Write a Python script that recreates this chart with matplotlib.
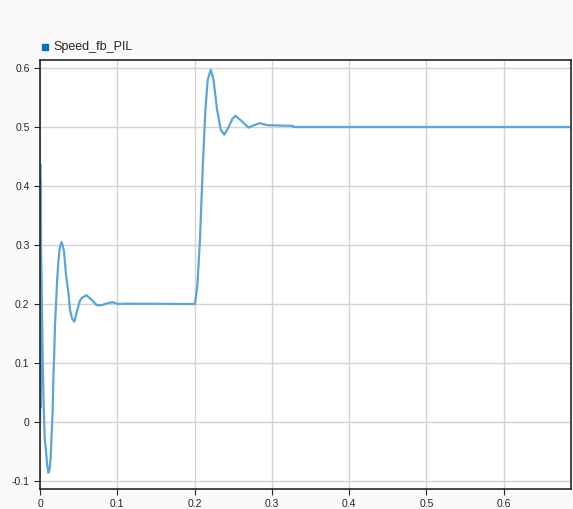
import numpy as np
import matplotlib.pyplot as plt

# key points (time in s, speed feedback)
t = [0.0, 0.0003, 0.0006, 0.0009, 0.0013, 0.0025, 0.0035, 0.0048, 0.0062,
     0.0078, 0.0091, 0.0108, 0.0125, 0.0138, 0.0151, 0.0164, 0.0172, 0.0185,
     0.0194, 0.0211, 0.0224, 0.0237, 0.0255, 0.0280, 0.0310, 0.0336, 0.0367,
     0.0388, 0.0415, 0.0444, 0.0483, 0.0515, 0.0539, 0.0600, 0.0668, 0.0733,
     0.0798, 0.0865, 0.0936, 0.1013, 0.1140, 0.2005, 0.2035, 0.2070, 0.2105,
     0.2140, 0.2170, 0.2210, 0.2245, 0.2290, 0.2340, 0.2385, 0.2440, 0.2490,
     0.2530, 0.2610, 0.2695, 0.2770, 0.2840, 0.2950, 0.3270, 0.3280, 0.687]
speed = [0.0, 0.437, 0.024, 0.41, 0.30, 0.20, 0.10, 0.025, -0.03,
         -0.05, -0.07, -0.086, -0.08, -0.06, -0.02, 0.02, 0.07, 0.12,
         0.165, 0.21, 0.245, 0.27, 0.295, 0.305, 0.29, 0.25, 0.22,
         0.19, 0.175, 0.17, 0.19, 0.205, 0.21, 0.215, 0.207, 0.198,
         0.198, 0.201, 0.203, 0.2, 0.2005, 0.2, 0.23, 0.31, 0.43,
         0.53, 0.58, 0.597, 0.58, 0.53, 0.495, 0.487, 0.5, 0.514,
         0.519, 0.51, 0.499, 0.503, 0.5065, 0.503, 0.502, 0.5, 0.5]

xticks = [0, 0.1, 0.2, 0.3, 0.4, 0.5, 0.6]
yticks = [-0.1, 0, 0.1, 0.2, 0.3, 0.4, 0.5, 0.6]

plt.rcParams['font.family'] = ['Liberation Sans', 'DejaVu Sans']

fig = plt.figure(figsize=(5.73, 5.09), dpi=100, facecolor='#fafafa')
ax = fig.add_axes([40 / 573, 20 / 509, 531 / 573, 429 / 509])
ax.set_facecolor('white')

ax.plot(t, speed, color='#5aa5d9', lw=1.6)

ax.set_xlim(0, 0.687)
ax.set_ylim(-0.1136, 0.6136)
ax.set_xticks(xticks)
ax.set_yticks(yticks)
ax.set_xticklabels(['{:g}'.format(v) for v in xticks])
ax.set_yticklabels(['{:g}'.format(v) for v in yticks])
ax.grid(True, color='#d3d3d3', lw=1)
ax.set_axisbelow(True)
ax.tick_params(labelsize=7.5, length=4, width=0.8, colors='#262626')
for s in ax.spines.values():
    s.set_color('#262626')
    s.set_linewidth(1.2)

fig.patches.append(plt.Rectangle((42 / 573, 1 - 50 / 509), 6 / 573, 6 / 509,
                                 transform=fig.transFigure, color='#0072bd'))
fig.text(53 / 573, 1 - 47 / 509, 'Speed_fb_PIL', fontsize=9, va='center',
         color='#262626')

fig.savefig('out.png', dpi=100, facecolor=fig.get_facecolor())
